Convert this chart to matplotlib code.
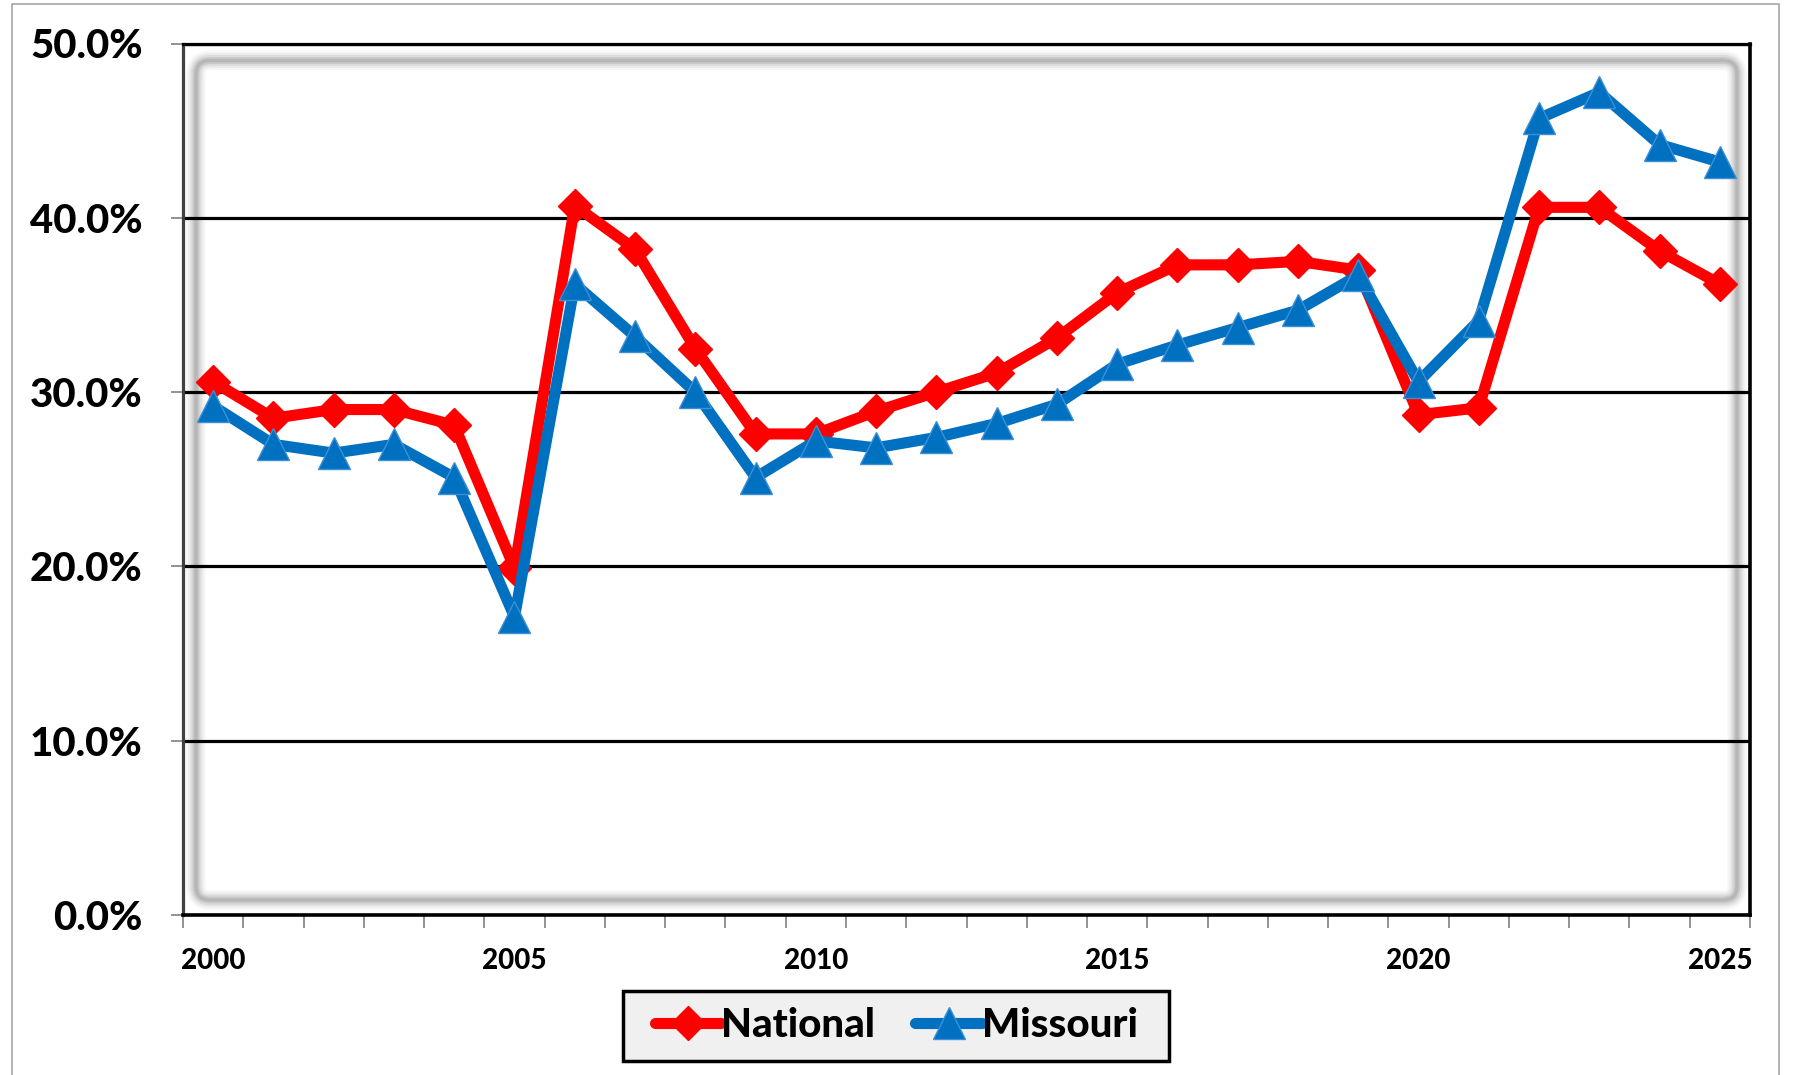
import matplotlib
matplotlib.use("Agg")
import matplotlib.pyplot as plt
from matplotlib.patches import FancyBboxPatch, Rectangle
from matplotlib.ticker import FixedLocator, FuncFormatter
from matplotlib.transforms import IdentityTransform
from matplotlib import font_manager

years = list(range(2000, 2026))
national = [30.6, 28.5, 29.0, 29.0, 28.1, 19.9, 40.7, 38.2, 32.5, 27.6,
            27.6, 28.9, 30.0, 31.1, 33.1, 35.7, 37.3, 37.3, 37.5, 37.0,
            28.7, 29.1, 40.6, 40.6, 38.1, 36.2]
missouri = [29.2, 27.0, 26.5, 27.0, 25.1, 17.1, 36.2, 33.2, 30.0, 25.1,
            27.2, 26.8, 27.4, 28.2, 29.3, 31.6, 32.7, 33.7, 34.7, 36.7,
            30.6, 34.1, 45.7, 47.2, 44.2, 43.2]
series_labels = ["National", "Missouri"]
x_label_years = [2000, 2005, 2010, 2015, 2020, 2025]
y_ticks = [0, 10, 20, 30, 40, 50]

FONT = "Lato"
lato_weights = sorted({f.weight for f in font_manager.fontManager.ttflist if f.name == "Lato"},
                      key=lambda w: w if isinstance(w, int) else 0)
WEIGHT = 900 if any(isinstance(w, int) and w >= 800 for w in lato_weights) else "bold"

W, H = 1793, 1075
fig = plt.figure(figsize=(W / 100, H / 100), dpi=100)
fig.patch.set_facecolor("white")

# outer chart border
fig.patches.append(Rectangle((12, -10), 1767, 1081, transform=IdentityTransform(),
                             fill=False, edgecolor="#a6a6a6", linewidth=1.2))

L, R, T, B = 183, 1750, 43.5, 915
ax = fig.add_axes([L / W, 1 - B / H, (R - L) / W, (B - T) / H])
ax.set_facecolor("white")

# inner soft shadow frame
x0 = L + 13
y0 = (H - B) + 15
w = (R - L) - 13 - 13
h = (B - T) - 17 - 15
for lw, a in [(14, 0.08), (11, 0.12), (8, 0.2), (5, 0.3), (2.5, 0.4)]:
    p = FancyBboxPatch((x0, y0), w, h, boxstyle="round,pad=0,rounding_size=14",
                       transform=IdentityTransform(), fill=False,
                       edgecolor=(0.62, 0.62, 0.62, a), linewidth=lw, zorder=0.3)
    ax.add_artist(p)

ax.plot(years, national, color="#FF0000", lw=8, marker="D", markersize=17,
        markerfacecolor="#FF0000", markeredgecolor="#FF0000", label=series_labels[0],
        zorder=3, solid_joinstyle="round", solid_capstyle="round")
ax.plot(years, missouri, color="#0070C0", lw=8, marker="^", markersize=23,
        markerfacecolor="#0070C0", markeredgecolor="#3d8fd6", markeredgewidth=1,
        label=series_labels[1], zorder=4, solid_joinstyle="round", solid_capstyle="round")

ax.set_xlim(1999.5, 2025.5)
ax.set_ylim(0, 50)

ax.set_axisbelow(True)
ax.yaxis.grid(True, color="black", lw=2.3)
ax.xaxis.grid(False)

ax.yaxis.set_major_locator(FixedLocator(y_ticks))
ax.yaxis.set_major_formatter(FuncFormatter(lambda v, p: f"{v:.1f}%"))
ax.tick_params(axis="y", which="major", direction="out", length=9, width=1.2,
               color="#808080", pad=20, labelsize=29)
ax.xaxis.set_major_locator(FixedLocator(x_label_years))
ax.xaxis.set_minor_locator(FixedLocator([y - 0.5 for y in years] + [2025.5]))
ax.tick_params(axis="x", which="major", length=0, pad=24, labelsize=20)
ax.tick_params(axis="x", which="minor", direction="out", length=9, width=1.2, color="#808080")

for lab in ax.get_yticklabels() + ax.get_xticklabels():
    lab.set_fontfamily(FONT)
    lab.set_fontweight(WEIGHT)

for side, col, lw in [("top", "black", 2.3), ("right", "black", 2.6),
                      ("left", "#404040", 2.3), ("bottom", "black", 2.6)]:
    ax.spines[side].set_color(col)
    ax.spines[side].set_linewidth(lw)

# legend box
fig.patches.append(Rectangle((623, 14), 546, 70, transform=IdentityTransform(),
                             facecolor="#f0f0f0", edgecolor="black", linewidth=2.5, zorder=1))
leg = fig.legend(loc="center", bbox_to_anchor=(0.4998, 0.0456), ncol=2,
                 prop={"family": FONT, "weight": WEIGHT, "size": 29},
                 frameon=False, handlelength=1.65, handletextpad=0.0,
                 columnspacing=1.0, borderpad=0.4, borderaxespad=0, markerscale=1.0)
leg.set_zorder(5)

fig.savefig("out.png", dpi=100, facecolor="white")
